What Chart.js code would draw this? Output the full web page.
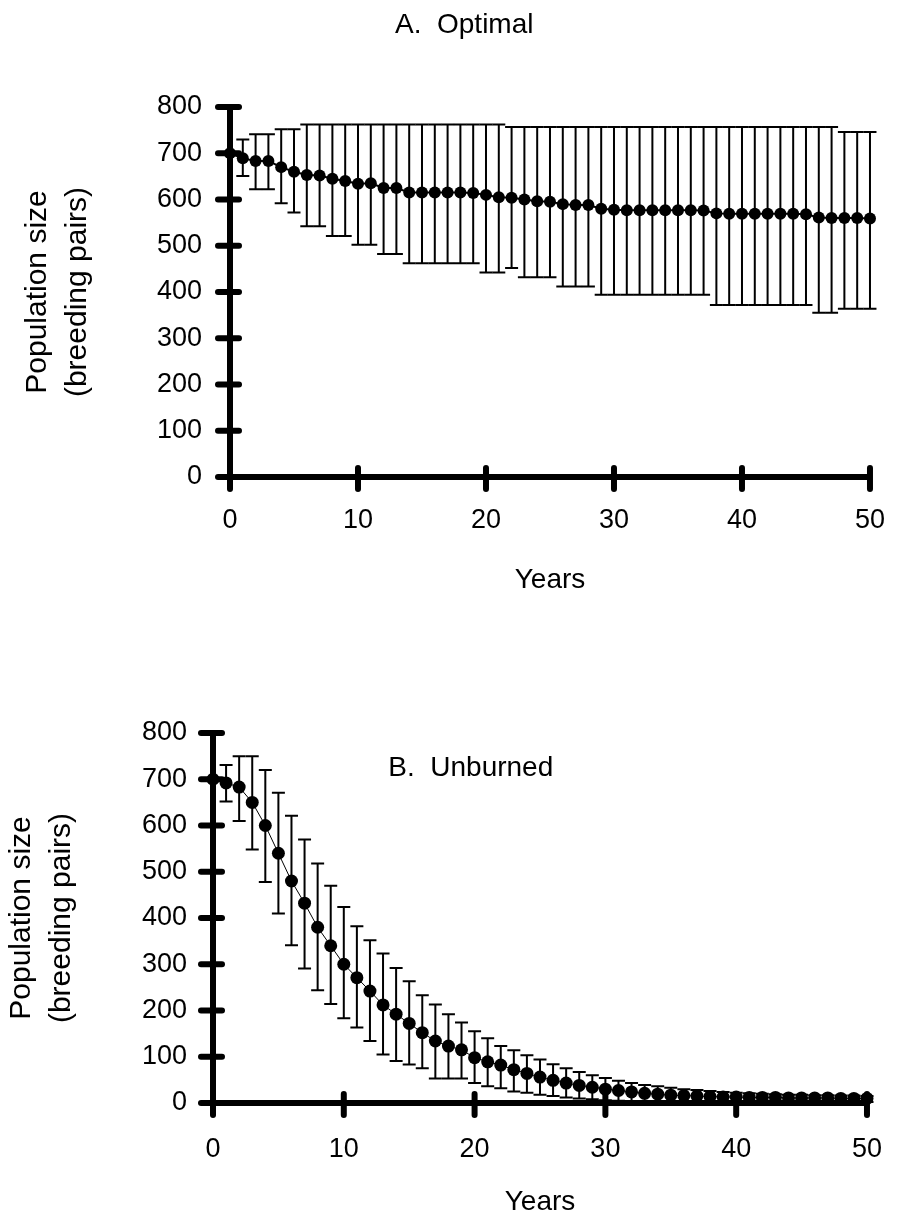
<!DOCTYPE html>
<html>
<head>
<meta charset="utf-8">
<script src="https://cdn.jsdelivr.net/npm/chart.js@4.4.1/dist/chart.umd.min.js"></script>
<style>
  html, body { margin:0; padding:0; background:#fff; }
  #wrap { position:relative; width:912px; height:1226px; overflow:hidden; }
  #wrap canvas { position:absolute; left:0; }
  #cTop { top:0; }
  #cBot { top:613px; }
</style>
</head>
<body>
<div id="wrap">
  <canvas id="cTop" width="912" height="613"></canvas>
  <canvas id="cBot" width="912" height="613"></canvas>
</div>
<script>
/* ── data ─────────────────────────────────────────── */
const years = [0,1,2,3,4,5,6,7,8,9,10,11,12,13,14,15,16,17,18,19,20,21,22,23,24,25,
  26,27,28,29,30,31,32,33,34,35,36,37,38,39,40,41,42,43,44,45,46,47,48,49,50];
const yTicks = [0,100,200,300,400,500,600,700,800];
const xTicks = [0,10,20,30,40,50];

/* A. Optimal */
const optMean = [700,689,683,683,670,660,653,652,645,640,634,635,625,625,615,615,615,615,615,614,
  610,605,604,600,596,595,590,588,588,580,578,577,577,577,577,577,577,576,570,569,
  569,569,569,569,569,568,561,560,560,560,559];
const optUpper = [700,730,741,741,752,752,762,762,762,762,762,762,762,762,762,762,762,762,762,762,
  762,762,757,757,757,757,757,757,757,757,757,757,757,757,757,757,757,757,757,757,
  757,757,757,757,757,757,757,757,746,746,746];
const optLower = [700,651,622,622,592,572,542,542,521,521,502,502,482,482,462,462,462,462,462,462,
  442,442,452,432,432,432,412,412,412,394,394,394,394,394,394,394,394,394,372,372,
  372,372,372,372,372,372,355,355,364,364,364];

/* B. Unburned */
const unbMean = [700,692,683,650,600,540,480,432,380,340,300,271,242,212,192,172,152,134,123,115,
  98,89,82,72,64,56,49,43,38,34,30,27,24,21,19,17,16,15,14,13,
  13,12,12,12,11,11,11,11,10,10,10];
const unbUpper = [700,731,750,750,720,671,621,570,518,470,424,382,352,323,292,263,233,213,192,174,
  155,140,123,114,103,94,84,75,67,60,54,48,43,39,36,33,30,28,26,24,
  22,21,20,19,18,18,17,17,16,16,15];
const unbLower = [700,652,610,548,478,410,341,291,244,214,183,163,134,105,91,83,75,53,53,53,
  43,36,32,25,22,18,15,12,10,8,6,5,4,3,3,2,2,2,2,2,
  2,2,2,2,2,2,2,2,2,2,2];

const FONT = 'Arial, "Liberation Sans", Helvetica, sans-serif';

/* error bars drawn under the markers */
const errorBars = {
  id: 'errorBars',
  beforeDatasetsDraw(chart, args, opts) {
    const { ctx, scales: { x, y } } = chart;
    chart.data.datasets.forEach(ds => {
      if (!ds.upper) return;
      ctx.save();
      ctx.strokeStyle = '#000';
      ctx.lineWidth = opts.width;
      ds.data.forEach((p, i) => {
        const px = x.getPixelForValue(p.x);
        const yt = y.getPixelForValue(ds.upper[i]);
        const yb = y.getPixelForValue(ds.lower[i]);
        if (Math.abs(yb - yt) < 1) return;
        ctx.beginPath();
        ctx.moveTo(px, yt); ctx.lineTo(px, yb);
        ctx.moveTo(px - opts.cap, yt); ctx.lineTo(px + opts.cap, yt);
        ctx.moveTo(px - opts.cap, yb); ctx.lineTo(px + opts.cap, yb);
        ctx.stroke();
      });
      ctx.restore();
    });
  }
};

/* fat tick marks that cross the axis lines */
const crossTicks = {
  id: 'crossTicks',
  afterDraw(chart) {
    const { ctx, scales: { x, y }, chartArea: a } = chart;
    ctx.save();
    ctx.strokeStyle = '#000';
    ctx.lineWidth = 6;
    ctx.lineCap = 'round';
    y.ticks.forEach(t => {
      const py = y.getPixelForValue(t.value);
      ctx.beginPath(); ctx.moveTo(a.left - 12, py); ctx.lineTo(a.left + 9, py); ctx.stroke();
    });
    x.ticks.forEach(t => {
      const px = x.getPixelForValue(t.value);
      ctx.beginPath(); ctx.moveTo(px, a.bottom - 9); ctx.lineTo(px, a.bottom + 12); ctx.stroke();
    });
    ctx.restore();
  }
};

/* panel caption placed in data units */
const panelLabel = {
  id: 'panelLabel',
  afterDraw(chart, args, opts) {
    const { ctx, scales: { x, y } } = chart;
    ctx.save();
    ctx.fillStyle = '#000';
    ctx.font = '28px ' + FONT;
    ctx.textAlign = opts.align;
    ctx.textBaseline = 'middle';
    ctx.fillText(opts.text, x.getPixelForValue(opts.x), y.getPixelForValue(opts.y));
    ctx.restore();
  }
};

function makePanel(id, mean, upper, lower, o) {
  const pts = years.map((yr, i) => ({ x: yr, y: mean[i] }));
  return new Chart(document.getElementById(id), {
    type: 'line',
    data: {
      datasets: [{
        data: pts,
        upper: upper,
        lower: lower,
        borderColor: '#000',
        borderWidth: o.lineW,
        pointRadius: o.r,
        pointBackgroundColor: '#000',
        pointBorderWidth: 0,
        tension: 0,
        clip: false
      }]
    },
    options: {
      responsive: false,
      animation: false,
      events: [],
      layout: { padding: o.pad },
      plugins: {
        legend: { display: false },
        tooltip: { enabled: false },
        errorBars: { width: 2, cap: 6.5 },
        panelLabel: o.label
      },
      scales: {
        x: {
          type: 'linear', min: 0, max: 50,
          afterBuildTicks: s => { s.ticks = xTicks.map(v => ({ value: v })); },
          afterFit: s => { s.height = o.xH; },
          grid: { display: false, drawTicks: false },
          border: { display: true, color: '#000', width: 6 },
          ticks: { color: '#000', padding: o.xPad, maxRotation: 0, autoSkip: false,
                   font: { family: FONT, size: 27 } },
          title: { display: true, text: 'Years', color: '#000', padding: { top: 0, bottom: 0 },
                   font: { family: FONT, size: 28 } }
        },
        y: {
          min: 0, max: 800,
          afterBuildTicks: s => { s.ticks = yTicks.map(v => ({ value: v })); },
          afterFit: s => { s.width = o.yW; },
          grid: { display: false, drawTicks: false },
          border: { display: true, color: '#000', width: 6 },
          ticks: { color: '#000', padding: o.yPad, font: { family: FONT, size: 27 } },
          title: { display: true, text: ['Population size', '(breeding pairs)'], color: '#000',
                   padding: { top: o.tPad, bottom: 0 },
                   font: { family: FONT, size: 30, lineHeight: '40px' } }
        }
      }
    },
    plugins: [errorBars, crossTicks, panelLabel]
  });
}

makePanel('cTop', optMean, optUpper, optLower, {
  lineW: 2, r: 6,
  pad: { left: 0, top: 107, right: 32, bottom: 16 },
  xH: 120, yW: 230, xPad: 27, yPad: 28, tPad: 18,
  label: { text: 'A.  Optimal', x: 18.3, y: 977, align: 'center' }
});

makePanel('cBot', unbMean, unbUpper, unbLower, {
  lineW: 1, r: 6.5,
  pad: { left: 0, top: 120, right: 22, bottom: 7 },
  xH: 116, yW: 213, xPad: 30, yPad: 26, tPad: 2,
  label: { text: 'B.  Unburned', x: 13.4, y: 724, align: 'left' }
});
</script>
</body>
</html>
